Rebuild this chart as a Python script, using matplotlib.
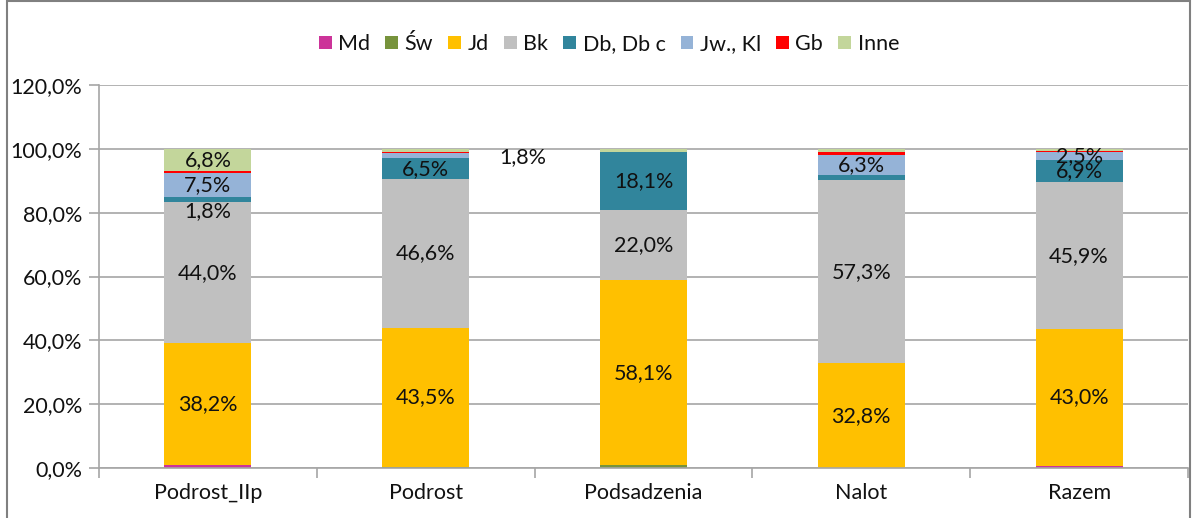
import matplotlib
matplotlib.use("Agg")
import matplotlib.pyplot as plt
from matplotlib.patches import Patch, Rectangle
import numpy as np

plt.rcParams['font.family'] = ['Lato', 'DejaVu Sans']

categories = ["Podrost_IIp", "Podrost", "Podsadzenia", "Nalot", "Razem"]
series_names = ["Md", "Św", "Jd", "Bk", "Db, Db c", "Jw., Kl", "Gb", "Inne"]
md = [1.0, 0.0, 0.0, 0.0, 0.5]
sw = [0.0, 0.4, 0.8, 0.0, 0.1]
jd = [38.2, 43.5, 58.1, 32.8, 43.0]
bk = [44.0, 46.6, 22.0, 57.3, 45.9]
db = [1.8, 6.5, 18.1, 1.7, 6.9]
jw = [7.5, 1.8, 0.0, 6.3, 2.5]
gb = [0.7, 0.3, 0.0, 0.9, 0.4]
inne = [6.8, 0.8, 1.0, 0.8, 0.6]
yticks = [0, 20, 40, 60, 80, 100, 120]

colors = ["#CC3399", "#77933C", "#FFC000", "#C0C0C0",
          "#31859C", "#95B3D7", "#FF0000", "#C3D69B"]
series = [md, sw, jd, bk, db, jw, gb, inne]

FS = 15.5
TEXT_C = "#111111"

# labels nudged away from the centre of their segment (points)
label_offsets = {(0, 4): (0, -8), (1, 5): (70, -1)}

fig = plt.figure(figsize=(11.95, 5.18), dpi=100)
ax = fig.add_axes([99 / 1195, 1 - 468 / 518, (1188 - 99) / 1195, (468 - 85) / 518])

x = np.arange(len(categories))
bottom = np.zeros(len(categories))
grid_c = "#A6A6A6"
for si, (vals, col) in enumerate(zip(series, colors)):
    vals = np.array(vals, dtype=float)
    ax.bar(x, vals, 0.4, bottom=bottom, color=col, zorder=3, linewidth=0)
    for ci, v in enumerate(vals):
        if v >= 1.8:
            dx, dy = label_offsets.get((ci, si), (0, 0))
            ax.annotate(f"{v:.1f}".replace(".", ",") + "%",
                        (x[ci], bottom[ci] + v / 2), xytext=(dx, dy),
                        textcoords="offset points", ha="center", va="center",
                        fontsize=FS, color=TEXT_C, zorder=5)
    bottom += vals

ax.set_xlim(-0.5, len(categories) - 0.5)
ax.set_ylim(0, 120)
ax.set_yticks(yticks)
ax.set_yticklabels([f"{t:.1f}".replace(".", ",") + "%" for t in yticks],
                   fontsize=FS, color=TEXT_C)
ax.yaxis.grid(True, color=grid_c, linewidth=1.2, zorder=0)
ax.set_xticks(x)
ax.set_xticklabels(categories, fontsize=FS, color=TEXT_C)
ax.tick_params(axis="x", length=0, pad=11)
ax.set_xticks(np.arange(len(categories) + 1) - 0.5, minor=True)
ax.tick_params(axis="x", which="minor", length=7, color=grid_c, width=1.2)
ax.tick_params(axis="y", length=7, color=grid_c, width=1.2, pad=5)
for s in ["top", "right"]:
    ax.spines[s].set_visible(False)
for s in ["left", "bottom"]:
    ax.spines[s].set_color(grid_c)
    ax.spines[s].set_linewidth(1.2)
ax.spines["bottom"].set_zorder(4)

handles = [Patch(facecolor=c, edgecolor="none") for c in colors]
leg = fig.legend(handles, series_names, loc="center", bbox_to_anchor=(609 / 1195, 1 - 44 / 518),
                 ncol=len(series_names), frameon=False, fontsize=FS,
                 handlelength=0.6, handleheight=0.6, handletextpad=0.3, columnspacing=0.7)
for t in leg.get_texts():
    t.set_color(TEXT_C)

# outer chart frame
fig.patches.append(Rectangle((7 / 1195, -0.05), (1190 - 7) / 1195, 1.05 - 1 / 518,
                             transform=fig.transFigure, fill=False,
                             edgecolor="#808080", linewidth=1.5))

fig.savefig("out.png", dpi=100, facecolor="white")
